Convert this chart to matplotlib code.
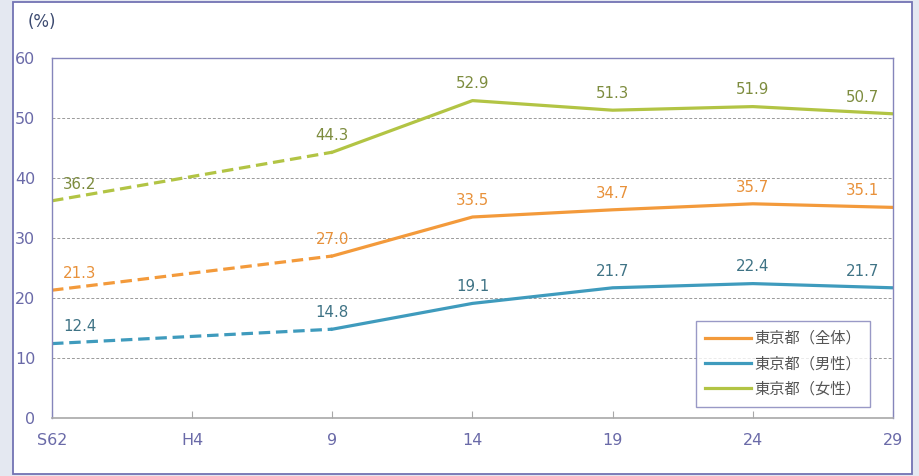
import matplotlib.pyplot as plt
from matplotlib.patches import Rectangle
from matplotlib.lines import Line2D

plt.rcParams['font.family'] = ['DejaVu Sans', 'Noto Sans CJK JP']

# category labels on the x axis (H4 has no survey value)
categories = ['S62', 'H4', '9', '14', '19', '24', '29']
data_idx = [0, 2, 3, 4, 5, 6]

total = [21.3, 27.0, 33.5, 34.7, 35.7, 35.1]
male = [12.4, 14.8, 19.1, 21.7, 22.4, 21.7]
female = [36.2, 44.3, 52.9, 51.3, 51.9, 50.7]

series_names = ['東京都（全体）', '東京都（男性）', '東京都（女性）']
line_colors = ['#f39a3b', '#3f9bbd', '#b2c444']
label_colors = ['#e8913a', '#3f7385', '#7d8c3e']

fig = plt.figure(figsize=(9.2, 4.76), dpi=100)
fig.patch.set_facecolor('#e4e8f1')

# white panel with border
W, H = 920, 476
fig.add_artist(Rectangle((13 / W, 2 / H), (912 - 13) / W, (474 - 2) / H,
                         transform=fig.transFigure, facecolor='white',
                         edgecolor='#7373b3', linewidth=1.3, zorder=0))

ax = fig.add_axes([52 / W, 1 - 418 / H, (893 - 52) / W, (418 - 58) / H])
ax.set_facecolor('none')

for vals, lc, tc in zip([total, male, female], line_colors, label_colors):
    # dashed from S62 to 9, solid afterwards
    ax.plot(data_idx[:2], vals[:2], color=lc, lw=2.3, dashes=(3.6, 1.8),
            solid_capstyle='butt')
    ax.plot(data_idx[1:], vals[1:], color=lc, lw=2.3, solid_joinstyle='round')
    for i, (x, v) in enumerate(zip(data_idx, vals)):
        dx = 0
        if i == 0:
            dx = 20
        elif i == len(vals) - 1:
            dx = -22
        ax.annotate(f'{v:.1f}', (x, v), xytext=(dx, 12), textcoords='offset points',
                    ha='center', va='center', fontsize=10.8, color=tc)

ax.set_xlim(0, len(categories) - 1)
ax.set_ylim(0, 60)
ax.set_xticks(range(len(categories)))
ax.set_xticklabels(categories)
ax.set_yticks(range(0, 61, 10))

ax.grid(axis='y', color='#9a9a9a', linestyle=(0, (3, 2)), linewidth=0.7)
ax.set_axisbelow(True)

for side in ['left', 'top', 'right']:
    ax.spines[side].set_color('#8585bb')
    ax.spines[side].set_linewidth(1.0)
ax.spines['bottom'].set_color('#a8a8a8')
ax.spines['bottom'].set_linewidth(1.2)

ax.tick_params(axis='x', direction='in', length=5, color='#a8a8a8', pad=11,
               labelsize=11.5, labelcolor='#6a6aa8')
ax.tick_params(axis='y', length=0, pad=12, labelsize=11.5, labelcolor='#6a6aa8')

fig.text(42 / W, 1 - 22 / H, '(%)', ha='center', va='center', fontsize=12,
         color='#3c4a70')

handles = [Line2D([], [], color=c, lw=2.3) for c in line_colors]
leg = ax.legend(handles, series_names, loc='lower right',
                bbox_to_anchor=(0.973, 0.031), borderaxespad=0,
                fancybox=False, frameon=True, fontsize=11, handlelength=3.0,
                labelspacing=0.55, borderpad=0.6, handletextpad=0.25)
leg.get_frame().set_edgecolor('#8080b8')
leg.get_frame().set_linewidth(1.0)
for t in leg.get_texts():
    t.set_color('#555555')
    t.set_fontfamily(['Noto Sans CJK JP', 'DejaVu Sans'])

fig.savefig('out.png', dpi=100, facecolor=fig.get_facecolor())
